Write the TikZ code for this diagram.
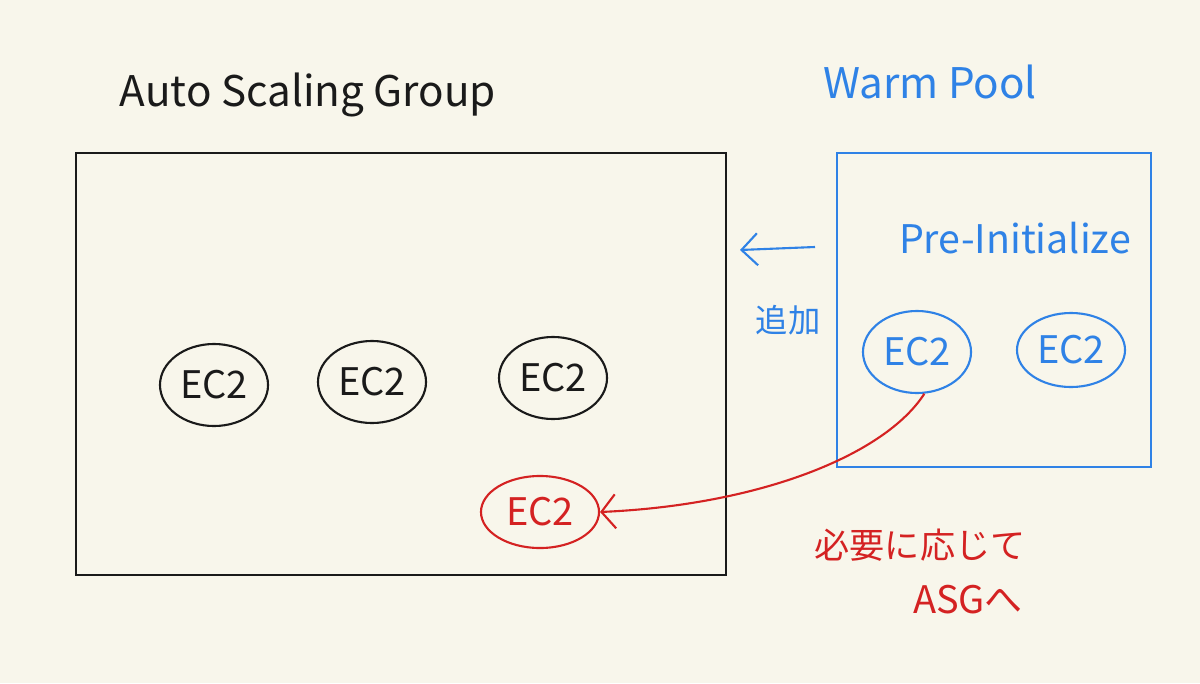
\documentclass[tikz,border=0pt]{standalone}
\usepackage{fontspec}
\newfontfamily\jpfont{Noto Sans CJK JP}
\usepackage{xcolor}
\usetikzlibrary{arrows.meta, positioning, shapes.geometric}
\definecolor{paper}{HTML}{F8F6EB}
\definecolor{poolblue}{HTML}{2F82E6}
\definecolor{needred}{HTML}{D42222}
\definecolor{inkblack}{HTML}{1A1A1A}

\begin{document}
\begin{tikzpicture}[
    x=0.025cm, y=-0.025cm,
    box/.style={draw, line width=1.3pt, inner sep=0pt},
    ec2/.style={draw, ellipse, line width=1.5pt, minimum width=2.7cm, minimum height=2.05cm, inner sep=0pt, font=\jpfont\fontsize{27}{27}\selectfont},
    title/.style={font=\jpfont\fontsize{30}{30}\selectfont},
    note/.style={font=\jpfont\fontsize{25}{25}\selectfont},
    move/.style={line width=1.5pt},
]

% Paper
\fill[paper] (0,0) rectangle (1200,683);

% Groups
\node[box, inkblack, minimum width=16.25cm, minimum height=10.55cm] (asg) at (401,364) {};
\node[box, poolblue, minimum width=7.85cm, minimum height=7.85cm] (pool) at (994,310) {};
\node[title, inkblack] (asgtitle) at (308,95) {Auto Scaling Group};
\node[title, poolblue] (pooltitle) at (930,82) {Warm Pool};
\node[note, poolblue, font=\jpfont\fontsize{28}{28}\selectfont] (preinit) at (1015,238) {Pre-Initialize};

% Instances
\node[ec2, inkblack] (asgA) at (214,385) {EC2};
\node[ec2, inkblack] (asgB) at (372,382) {EC2};
\node[ec2, inkblack] (asgC) at (553,378) {EC2};
\node[ec2, needred, minimum width=2.95cm, minimum height=1.8cm] (asgNew) at (540,512) {EC2};
\node[ec2, poolblue] (poolA) at (917,352) {EC2};
\node[ec2, poolblue, minimum height=1.85cm] (poolB) at (1071,350) {EC2};

% Add arrow
\coordinate (addFrom) at (815,247);
\coordinate (addTo) at (740,250);
\draw[move, poolblue, -{Straight Barb[length=4mm, width=8mm]}] (addFrom) -- (addTo);
\node[note, poolblue, font=\jpfont\fontsize{23}{23}\selectfont] (addlabel) at (788,320) {追加};

% Move to ASG
\draw[move, needred, -{Straight Barb[length=3.5mm, width=8.5mm]}] (poolA.-80) .. controls (885,455) and (760,505) .. (asgNew.east);
\node[note, needred] (needlabel) at (920,545) {必要に応じて};
\node[note, needred, font=\jpfont\fontsize{27}{27}\selectfont] (asglabel) at (968,600) {ASGへ};

\end{tikzpicture}
\end{document}
